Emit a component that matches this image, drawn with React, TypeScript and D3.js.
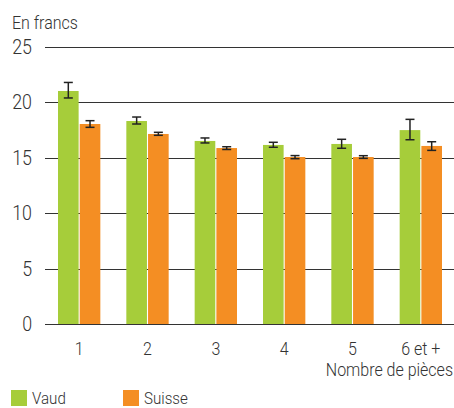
import React from "react";
import * as d3 from "d3";

const categories = ["1", "2", "3", "4", "5", "6 et +"];
const seriesNames = ["Vaud", "Suisse"];
const vaud = [21.03, 18.32, 16.52, 16.16, 16.25, 17.5];
const vaudLow = [20.4, 18.05, 16.34, 15.95, 15.86, 16.63];
const vaudHigh = [21.8, 18.68, 16.79, 16.4, 16.67, 18.47];
const suisse = [18.05, 17.15, 15.88, 15.07, 15.07, 16.07];
const suisseLow = [17.75, 17.03, 15.75, 14.92, 14.95, 15.67];
const suisseHigh = [18.35, 17.3, 16.0, 15.2, 15.19, 16.45];
const yTicks = [0, 5, 10, 15, 20, 25];
const colors = ["#a6cd3a", "#f48e23"];

const FONT = "Roboto, 'Liberation Sans', sans-serif";
const SX = 0.89;

function Txt({ x, y, size, anchor = "start", dy, children }: any) {
  return (
    <text
      transform={`translate(${x},${y}) scale(${SX},1)`}
      textAnchor={anchor}
      fontSize={size}
      dy={dy}
      fill="#333"
    >
      {children}
    </text>
  );
}

export default function App() {
  const W = 454, H = 408;
  const x0 = d3.scaleBand().domain(categories).range([45, 455]).paddingInner(0).paddingOuter(0);
  const y = d3.scaleLinear().domain([0, 25]).range([324, 47]);
  const inner = d3.scaleBand().domain(seriesNames).range([13, x0.bandwidth() - 13]).paddingInner(0.05);
  const series = [
    { name: "Vaud", v: vaud, lo: vaudLow, hi: vaudHigh },
    { name: "Suisse", v: suisse, lo: suisseLow, hi: suisseHigh },
  ];
  return (
    <svg width={W} height={H} style={{ position: "absolute", left: 0, top: 0 }} fontFamily={FONT} fontWeight={300}>
      <rect width={W} height={H} fill="#fff" />
      <Txt x={12} y={29} size={18}>En francs</Txt>
      {yTicks.map((t) => (
        <g key={t}>
          <line x1={45} x2={454} y1={Math.round(y(t)) + 0.5} y2={Math.round(y(t)) + 0.5} stroke="#333" strokeWidth={1.2} />
          <Txt x={32} y={y(t)} dy="0.35em" anchor="end" size={20}>{t}</Txt>
        </g>
      ))}
      {series.map((s, si) => (
        <g key={s.name}>
          {categories.map((c, i) => {
            const bx = (x0(c) as number) + (inner(s.name) as number);
            const bw = inner.bandwidth();
            const cx = bx + bw / 2;
            return (
              <g key={c}>
                <rect x={bx} y={y(s.v[i])} width={bw} height={y(0) - y(s.v[i])} fill={colors[si]} />
                <line x1={cx} x2={cx} y1={y(s.hi[i])} y2={y(s.lo[i])} stroke="#222" strokeWidth={1.5} />
                <line x1={cx - 4.5} x2={cx + 4.5} y1={y(s.hi[i])} y2={y(s.hi[i])} stroke="#222" strokeWidth={1.5} />
                <line x1={cx - 4.5} x2={cx + 4.5} y1={y(s.lo[i])} y2={y(s.lo[i])} stroke="#222" strokeWidth={1.5} />
              </g>
            );
          })}
        </g>
      ))}
      <line x1={45} x2={454} y1={324.5} y2={324.5} stroke="#333" strokeWidth={1.2} />
      {categories.map((c) => (
        <Txt key={c} x={(x0(c) as number) + x0.bandwidth() / 2} y={355} anchor="middle" size={18}>{c}</Txt>
      ))}
      <Txt x={453} y={376} anchor="end" size={18}>Nombre de pièces</Txt>
      {seriesNames.map((n, i) => (
        <g key={n} transform={`translate(${11 + i * 112},390)`}>
          <rect width={16} height={16} fill={colors[i]} />
          <Txt x={21} y={14} size={17}>{n}</Txt>
        </g>
      ))}
    </svg>
  );
}
